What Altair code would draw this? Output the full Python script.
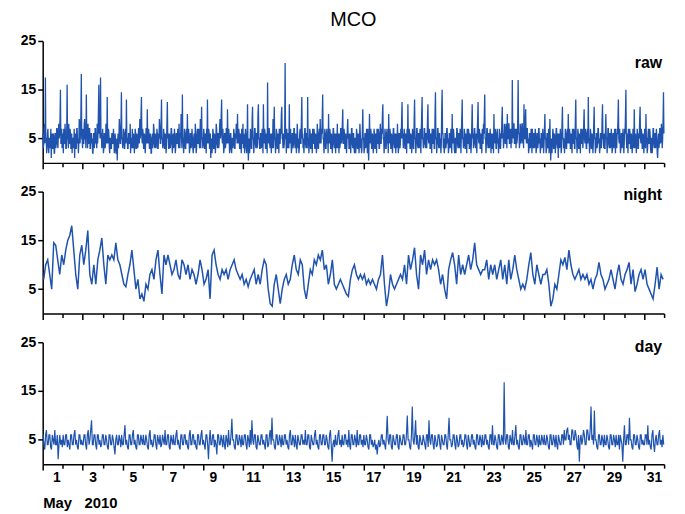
import altair as alt
import pandas as pd

TITLE = "MCO"
PANELS = ["raw", "night", "day"]
XTITLE = "May\u00a0\u00a0\u00a02010"
YTICKS = [5, 15, 25]
NDAYS = 31

RAW = [
    6,3,4,7,8,4,17.5,5,5,2,3,6,7,4,2,5,5,3,4,7,1,5,6,3,3,6,5,2,2,6,6,3,4,7,7,4,3,6,8,5,6,9,15,4,4,7,3,6,
    5,2,7,4,4,8,6,3,3,6,16,5,5,3,8,4,4,7,6,3,3,6,2,5,5,3,4,7,1,5,6,3,3,7,7,4,5,2,4,9,8,4,6,10,18.2,5,5,3,
    7,4,4,8,9,5,5,3,14,6,6,3,8,4,4,7,7,3,3,6,6,4,5,2,2,6,6,3,4,7,7,4,5,3,8,4,6,11,16,6,7,5,17.5,6,6,3,4,7,
    5,2,3,6,6,3,4,8,7,4,13.5,5,4,7,6,3,2,5,5,3,3,6,6,4,4,7,5,2,3,6,4,2,2,5,0.5,4,6,3,5,9,7,4,4,8,14.5,5,5,3,
    4,7,6,3,3,6,7,4,13,5,5,3,3,6,6,4,4,8,2,5,5,3,7,4,3,6,5,2,4,7,6,3,3,6,5,3,4,7,7,4,9,5,6,10,13.5,5,4,7,
    6,3,3,6,5,2,4,7,7,4,11,5,4,7,6,3,3,6,5,2,2,5,6,3,4,8,7,4,3,6,5,3,4,7,6,3,3,6,5,9,7,4,4,8,13,5,5,3,
    4,7,6,3,3,6,5,2,4,8,12.5,5,6,3,3,6,5,3,4,7,7,4,2,5,6,3,4,7,5,2,3,6,6,4,4,7,5,3,8,4,3,6,6,10,5,3,14,5,
    5,2,4,7,6,3,3,6,7,4,10,5,4,7,5,2,3,6,6,3,4,7,5,3,2,5,6,3,4,8,5,2,3,6,7,4,4,7,6,3,5,9,3,6,11.5,5,5,3,
    4,7,6,3,3,6,5,2,7,4,13,5,4,7,6,3,3,6,1,4,5,2,4,7,6,3,3,6,5,2,4,8,7,4,3,6,6,3,4,7,9,5,6,10,13,5,4,7,
    5,2,3,6,6,3,4,7,7,4,11,5,4,7,5,2,3,6,6,3,2,5,5,3,4,7,6,3,3,6,5,8,7,4,10,5,4,7,6,3,3,6,5,2,7,4,4,8,
    3,6,5,2,4,7,6,3,2,5,12,4,0.5,4,5,2,4,7,6,3,3,9,11.5,5,5,2,4,7,7,4,3,6,6,3,4,10,12,5,5,3,3,6,6,3,4,7,5,2,
    12,5,4,7,6,3,3,6,5,2,16.5,5,4,7,7,4,3,6,5,2,6,3,4,9,3,6,11.5,5,5,2,4,7,6,3,3,6,5,2,7,4,4,7,6,10,11.5,5,5,3,
    6,3,4,7,20.5,5,5,2,7,4,3,6,6,3,12,5,4,7,5,2,3,6,6,3,4,7,7,4,3,6,5,2,4,8,6,3,5,2,3,6,7,4,4,9,13.5,5,6,3,
    5,2,4,7,7,4,3,6,6,3,13.5,5,5,2,4,7,6,3,3,6,5,2,7,4,4,7,6,3,3,6,5,2,4,8,6,3,3,6,7,4,9,5,4,7,6,10,14,5,
    5,2,4,7,6,3,3,6,7,4,5,2,10,5,4,7,6,3,3,6,5,2,4,7,7,4,3,6,5,2,6,3,4,8,3,6,5,2,6,3,4,7,7,4,5,8,11,4,
    4,7,6,3,3,6,5,2,4,7,9,5,6,3,3,6,5,2,4,7,7,4,3,6,6,3,2,5,5,2,4,7,6,3,3,6,5,2,4,8,6,3,5,2,3,7,11,5,
    5,2,3,6,6,3,4,7,5,2,7,3,0.5,4,10,5,4,7,6,3,3,6,5,2,4,7,6,3,3,6,5,2,7,4,4,7,6,3,3,6,8,4,4,7,6,10,12,5,
    5,2,4,7,6,3,3,6,7,4,5,2,10,5,4,7,6,3,3,6,5,2,4,7,7,4,3,6,5,2,6,3,4,8,5,2,3,6,6,3,4,7,5,9,12.5,5,6,3,
    4,7,6,3,3,6,5,2,7,4,12,5,4,7,6,3,3,6,5,2,4,7,6,3,3,9,13,5,5,2,4,7,7,4,3,6,6,3,4,7,5,2,6,10,13.5,5,5,3,
    4,7,7,4,3,6,6,3,5,9,12,5,4,7,6,3,3,6,5,2,7,4,4,7,6,3,3,10,14.5,5,5,2,4,7,7,4,3,6,6,3,5,2,4,11,15,6,6,3,
    5,2,3,6,6,3,4,7,7,4,5,2,3,6,6,3,4,7,5,2,10,5,4,7,6,3,2,5,5,2,4,7,7,4,3,6,6,3,4,7,5,2,6,9,13,5,5,3,
    4,7,6,3,3,6,5,2,7,4,4,7,6,3,3,6,5,2,4,8,12,5,6,3,4,7,7,4,3,6,5,2,6,9,12.5,5,4,7,6,3,3,6,5,2,7,4,4,8,
    6,10,14,5,5,2,4,7,7,4,3,6,6,3,4,7,5,2,6,3,3,6,5,2,10,5,4,7,6,3,3,6,7,4,5,2,4,7,6,3,3,6,5,9,11.5,5,6,3,
    5,8,7,4,4,8,6,3,10,5,5,8,8,4,4,7,6,3,7,4,17,6,5,8,8,4,4,7,6,3,7,4,5,9,17,6,6,3,4,8,7,4,5,8,8,4,6,3,
    12,5,5,8,11,5,4,7,7,4,5,2,3,6,6,3,4,7,5,2,7,4,3,6,6,3,4,7,5,2,3,6,6,3,4,7,7,4,5,2,3,6,6,3,4,7,5,2,
    4,7,10,5,5,2,3,6,6,3,4,7,2,5,9,4,0.5,4,5,2,4,7,6,3,3,6,5,2,4,7,7,4,3,6,1,4,6,3,4,7,5,2,3,8,11.5,5,5,3,
    5,2,4,7,6,3,3,6,7,4,10,5,4,7,6,3,3,6,5,2,7,4,4,7,6,3,3,9,13,5,5,2,4,7,6,3,3,6,5,2,7,4,4,7,6,3,5,8,
    11,5,4,7,6,3,3,6,7,4,13.5,5,5,2,4,7,6,3,3,6,5,2,4,8,11.5,5,5,2,3,6,6,3,4,7,7,4,5,2,3,6,6,3,4,9,12,5,5,3,
    6,3,3,6,10,5,5,2,4,7,7,4,3,6,6,3,4,7,5,2,3,6,6,3,4,7,5,2,7,4,3,6,6,9,13,5,4,7,5,2,3,6,6,3,4,7,5,2,
    4,7,6,10,15,5,3,6,5,2,7,4,4,7,6,3,3,6,5,2,4,7,6,3,11,5,3,6,5,2,4,7,6,3,3,6,5,9,11.5,5,4,7,6,3,3,6,5,2,
    4,7,6,3,10,5,5,2,3,6,7,4,4,7,6,3,2,5,5,2,4,7,7,4,3,6,6,3,4,7,5,2,1,4,6,3,4,7,7,4,5,8,6,3,5,9,14.5,6,
]

NIGHT = [
    7,10,11,8,5,14.5,14,11,8,12,
    10,13,15,16,18,13,8,5,12,14,
    10,13,17,8,6,10,6,11,13,15.5,
    10,6,12,11,12,11,14.5,11,10,8,
    6,5.5,8,10,13,9,5,7,3,4,
    2.5,6,5,8,9,7,11,13,8,4,
    12,10,12,10,8,9,11,8,7,11,
    10,8,10,7,9,8,6,8,11,9,
    6,7,9,3,12,13,10,8,7,9,
    8,9,7,9,10,11,9,8,7,8,
    6,7,5.5,7,8,9,6,8,6,9,
    11,10,5,2,1.5,6,8,5,2,5,
    7,8,6,7,10,12,9,8,11,10,
    5,3,6,9,8,11,10,12,11,13,
    9,10,6,8,11,6,5,6,7,6,
    5,4,3.5,7,9,10,8,7,8,7,
    8,6,7,6,7,6,5,7,8,12,
    6,1.5,4,8,6,5,6,7,8,7,
    10,6,12,9,11,13.5,8,5,12,10,
    13,8,11,9,11,10,11,9,6,8,
    5,3,9,11,12.5,10,6,12,8,10,
    8,10,12,9,11,14.5,10,9,8,9,
    9,11,7,10,8,10,7,9,11,7,
    10,6,11,7,9,12,9,7,5,6,
    5,7,10,12.5,8,6,10,8,6,8,
    8,9,6,1.5,3,6,5,8,11,10,
    11.5,9,13,10,8,7,8,9,7,8,
    7,8,6,7,5,7,8,10.5,8,7,
    5,6,7,9,7,5,8,10,7,6,
    8,9,10.5,6,9,4.5,6,8,9,7,
    9,6,5,4,3,6,9.5,5,8,7,
]

DAY = [
    6,4,3,6,7,4,4,6,6,3.5,3,6,5,4,7,4,4,6,1,4,6,4,5,3.5,
    6,4,4,6,6,3.5,5,4,3,6,6,4,4,6,7,4,5,3.5,3,6,6,4,5,4,
    4,6,6,4,3,6,7,4,5,7,9,4,4,6,6,4,3,6,6,4,5,3.5,4,6,
    6,4,4,6,5,3.5,3,6,6,4,4,6,5,3.5,2,5,6,4,4,6,5,3.5,6,4,
    4,6,8,4,5,3.5,3,6,6,4,4,6,7,4,5,3.5,3,6,6,4,4,6,5,4,
    6,4,4,6,5,3.5,3,6,7,4,5,3.5,4,6,6,4,3,6,5,4,6,3.5,4,6,
    5,4,7,4,4,6,6,3.5,3,6,5,4,6,4,4,6,7,4,5,3.5,3,6,6,4,
    4,6,6,4,5,3.5,3,6,7,4,4,6,6,4,5,3.5,3,6,6,4,4,6,7,4,
    5,4,3,6,6,4,1,5,7,4,4,6,6,3.5,5,4,2,6,6,4,4,6,5,3.5,
    6,4,3,6,5,3.5,7,4,4,6,9.3,5,5,3.5,3,6,6,4,4,6,5,3.5,6,4,
    4,6,6,4,3,6,5,3.5,7,4,9,5,4,6,6,3.5,3,6,5,4,4,6,6,4,
    5,4,3,6,6,3.5,4,6,7,4,9.5,5,5,3.5,3,6,6,4,4,6,5,3.5,6,4,
    4,6,6,4,5,3.5,3,6,7,4,4,6,5,3.5,6,4,3,6,5,4,4,6,6,4,
    5,4,7,4,4,6,6,3.5,3,6,5,4,4,6,7,4,5,3.5,3,6,6,4,4,6,
    6,4,4,6,5,3.5,3,6,7,4,0.5,4,5,3.5,6,4,4,6,7,4,5,3.5,6,4,
    4,6,6,4,5,3.5,7,4,3,6,6,4,4,6,5,3.5,7,4,4,6,6,4,5,3.5,
    6,4,4,6,5,3.5,3,6,6,4,5,3.5,4,5,3,4,2,4,5,3.5,4,6,6,4,
    5,4,3,6,9.9,5,4,6,6,3.5,3,6,5,4,4,6,6,3.5,3,6,5,4,4,6,
    6,4,4,6,10,5,5,3.5,3,6,11.8,5,4,6,9,4,6,3.5,3,6,5,4,4,6,
    5,4,3,6,6,3.5,9,5,4,6,6,4,3,6,5,3.5,4,6,6,4,3,6,5,4,
    4,6,6,4,3,6,9.5,5,5,3.5,4,6,6,4,3,6,5,3.5,4,6,6,4,5,3.5,
    4,6,6,4,3,6,5,3.5,4,6,6,4,5,3.5,3,6,6,4,4,6,5,3.5,6,4,
    4,6,6,4,5,3.5,3,6,6,4,8,4,4,6,5,3.5,3,6,6,4,4,6,5,4,
    16.8,5,4,6,6,3.5,3,6,5,4,7,4,4,6,8,4,5,3.5,3,6,6,4,4,6,
    5,4,7,4,4,6,6,3.5,5,4,3,6,6,4,4,6,5,3.5,6,4,4,6,5,4,
    6,4,4,6,5,3.5,3,6,6,4,4,6,5,3.5,6,4,3,6,5,4,4,6,6,4,
    7,5,5,7,7.5,5,6,4,4,7,7,5,5,7,6,4,3,6,0.5,5,6,4,5,7,
    6,4,4,7,7,5,5,7,11.8,5,6,4,11,5,5,3.5,3,6,6,4,4,6,5,3.5,
    6,4,4,6,5,3.5,3,6,6,4,4,6,5,3.5,6,4,4,6,3,6,5,4,0.5,5,
    8,4,4,6,6,4,9.5,5,5,3.5,3,6,6,4,4,6,5,3.5,3,6,6,4,5,4,
    4,6,6,4,8,4,5,3.5,3,6,7,4,2.5,5,6,4,4,6,7,4,5,3.5,6,4,
]

FONT = "Liberation Sans"
BLUE = "#1f53ad"
W = 627
H = 123


def series_df(vals):
    n = len(vals)
    step = NDAYS / n
    return pd.DataFrame({"t": [(i + 0.5) * step for i in range(n)], "v": vals})


def panel(vals, name, label_y, bottom, stroke, title=None):
    xaxis_kw = dict(
        values=list(range(NDAYS + 1)),
        tickSize={"condition": {"test": "datum.value % 2 === 0", "value": 6}, "value": 4},
        grid=False,
        labelOverlap=False,
    )
    if bottom:
        xaxis_kw.update(
            labelExpr="datum.value % 2 === 0 && datum.value < 31 ? '' + (datum.value + 1) : ''",
            labelOffset=10,
            labelFontSize=14,
            labelPadding=0,
            title=XTITLE,
            titleAnchor="start",
            titleAlign="left",
            titleFontSize=15,
            titleFontWeight="bold",
            titleFont=FONT,
            titlePadding=12,
        )
    else:
        xaxis_kw.update(labels=False, title=None)

    line = alt.Chart(series_df(vals)).mark_line(color=BLUE, strokeWidth=stroke).encode(
        x=alt.X("t:Q", scale=alt.Scale(domain=[0, NDAYS], nice=False, zero=False),
                axis=alt.Axis(**xaxis_kw)),
        y=alt.Y("v:Q", scale=alt.Scale(domain=[0, 25], nice=False),
                axis=alt.Axis(values=YTICKS, tickSize=5, grid=False, title=None,
                              labelFontSize=14, labelPadding=2)),
    )
    label = alt.Chart(pd.DataFrame({"label": [name]})).mark_text(
        align="right", baseline="alphabetic", font=FONT, fontWeight="bold",
        fontSize=16, color="black",
    ).encode(x=alt.value(W - 2), y=alt.value(label_y), text="label:N")
    props = dict(width=W, height=H)
    if title is not None:
        props["title"] = title
    return alt.layer(line, label).properties(**props)


top = panel(RAW, PANELS[0], 27, False, 1.3,
            title=alt.TitleParams(TITLE, fontSize=20, fontWeight="normal", font=FONT,
                                  anchor="middle", frame="group", offset=4, color="black"))
mid = panel(NIGHT, PANELS[1], 8, False, 1.5)
bot = panel(DAY, PANELS[2], 10, True, 1.2)

chart = alt.vconcat(top, mid, bot, spacing=15).configure_view(stroke=None).configure_axis(
    domainColor="black", domainWidth=1.5, tickColor="black", tickWidth=1.5,
    labelFont=FONT, labelFontWeight="bold", labelColor="black",
).properties(padding={"left": 12, "top": 0, "right": 3, "bottom": 0})

chart.save("out.html", embed_options={"renderer": "svg", "actions": False})
